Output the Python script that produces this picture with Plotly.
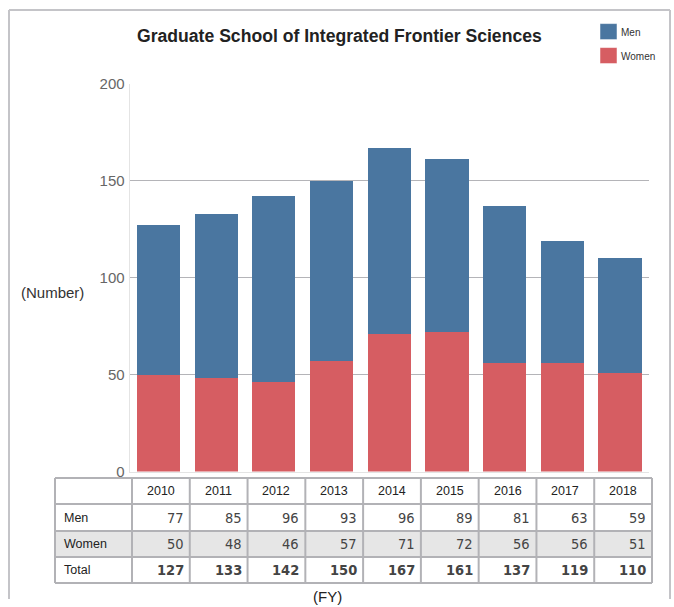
import plotly.graph_objects as go

years = ["2010", "2011", "2012", "2013", "2014", "2015", "2016", "2017", "2018"]
men = [77, 85, 96, 93, 96, 89, 81, 63, 59]
women = [50, 48, 46, 57, 71, 72, 56, 56, 51]
total = [127, 133, 142, 150, 167, 161, 137, 119, 110]
row_labels = ["Men", "Women", "Total"]
y_ticks = [0, 50, 100, 150, 200]

W, H = 674, 607
BLUE = "#4a76a0"
RED = "#d65d62"
SANS = "Liberation Sans, Arial, sans-serif"
NARROW = "DejaVu Sans Condensed, Liberation Sans Narrow, Arial Narrow, sans-serif"

# the photographed page appears vertically squeezed (y_img = 0.973*y_page + 8.4);
# positions below are given in reference-image pixels and mapped back to page pixels.
SY, OY = 0.973, 8.4

def px(x):
    return x / W

def py(y):
    yp = (y - OY) / SY
    yp = min(max(yp, 0.0), H)
    return 1 - yp / H

PL, PR, PT, PB = 129.6, 648.9, 83.0, 471.5

fig = go.Figure()
fig.add_trace(go.Bar(x=years, y=women, name="Women", marker=dict(color=RED, line=dict(width=0))))
fig.add_trace(go.Bar(x=years, y=men, name="Men", marker=dict(color=BLUE, line=dict(width=0))))

shapes = []
ann = []

# outer frame
for (x0, y0, x1, y1) in [(9, 9.4, 670, 9.4), (9, 9.4, 9, 607), (670, 9.4, 670, 607)]:
    shapes.append(dict(type="line", xref="paper", yref="paper", x0=px(x0), y0=py(y0), x1=px(x1), y1=py(y1),
                       line=dict(color="#c4c4c8", width=2)))

# title
ann.append(dict(text="<b>Graduate School of Integrated Frontier Sciences</b>", x=px(339), y=py(35),
                xref="paper", yref="paper", showarrow=False, xanchor="center", yanchor="middle",
                font=dict(family=SANS, size=17.6, color="#222222")))

# legend (drawn as keys)
for i, (name, col) in enumerate([("Men", BLUE), ("Women", RED)]):
    y0 = 23 + i * 24
    shapes.append(dict(type="rect", xref="paper", yref="paper", x0=px(600), x1=px(617), y0=py(y0), y1=py(y0 + 16),
                       fillcolor=col, line=dict(color="#ffffff", width=0.5)))
    ann.append(dict(text=name, x=px(619), y=py(y0 + 9), xref="paper", yref="paper", showarrow=False,
                    xanchor="left", yanchor="middle", font=dict(family=SANS, size=10, color="#333333")))

# y axis title
ann.append(dict(text="(Number)", x=px(52), y=py(292), xref="paper", yref="paper", showarrow=False,
                xanchor="center", yanchor="middle", font=dict(family=SANS, size=15, color="#333333")))

# data table
TL, TC0, TR = 55, 132, 652
cw = (TR - TC0) / len(years)
rows_y = [478, 504, 531, 557, 583]
shapes.append(dict(type="rect", xref="paper", yref="paper", x0=px(TL), x1=px(TR), y0=py(rows_y[2]), y1=py(rows_y[3]),
                   fillcolor="#e6e6e6", line=dict(width=0), layer="below"))
GRID = "#b2b2b6"
for yy in rows_y:
    shapes.append(dict(type="line", xref="paper", yref="paper", x0=px(TL), x1=px(TR), y0=py(yy), y1=py(yy),
                       line=dict(color=GRID, width=2)))
for k in range(len(years) + 1):
    xx = TC0 + k * cw
    shapes.append(dict(type="line", xref="paper", yref="paper", x0=px(xx), x1=px(xx), y0=py(rows_y[0]), y1=py(rows_y[-1]),
                       line=dict(color=GRID, width=2)))
shapes.append(dict(type="line", xref="paper", yref="paper", x0=px(TL), x1=px(TL), y0=py(rows_y[0]), y1=py(rows_y[-1]),
                   line=dict(color=GRID, width=2)))

for k, yr in enumerate(years):
    cx = TC0 + (k + 0.5) * cw
    ann.append(dict(text=yr, x=px(cx), y=py((rows_y[0] + rows_y[1]) / 2), xref="paper", yref="paper",
                    showarrow=False, xanchor="center", yanchor="middle",
                    font=dict(family=SANS, size=12.5, color="#222222")))
for r, (lab, vals) in enumerate(zip(row_labels, [men, women, total])):
    yc = (rows_y[r + 1] + rows_y[r + 2]) / 2
    ann.append(dict(text=lab, x=px(62), y=py(yc), xref="paper", yref="paper", showarrow=False,
                    xanchor="left", yanchor="middle", font=dict(family=SANS, size=12.5, color="#222222")))
    for k, v in enumerate(vals):
        xr = TC0 + (k + 1) * cw - 4
        txt = f"<b>{v}</b>" if lab == "Total" else str(v)
        ann.append(dict(text=txt, x=px(xr), y=py(yc), xref="paper", yref="paper", showarrow=False,
                        xanchor="right", yanchor="middle", font=dict(family=NARROW, size=14.5, color="#444444")))

ann.append(dict(text="(FY)", x=px(327), y=py(597), xref="paper", yref="paper", showarrow=False,
                xanchor="center", yanchor="middle", font=dict(family=SANS, size=15, color="#222222")))

fig.update_layout(
    width=W, height=H, autosize=False,
    margin=dict(l=0, r=0, t=0, b=0),
    paper_bgcolor="white", plot_bgcolor="white",
    barmode="stack", bargap=0.25,
    showlegend=False,
    shapes=shapes, annotations=ann,
    xaxis=dict(domain=[px(PL), px(PR)], showticklabels=False, ticks="", showgrid=False,
               showline=True, linecolor="#e4e4e4", linewidth=1, fixedrange=True),
    yaxis=dict(domain=[py(PB), py(PT)], range=[0, 200], tickvals=y_ticks, ticks="",
               showgrid=True, gridcolor="#b4b4b8", gridwidth=1,
               zeroline=False, showline=True, linecolor="#e4e4e4", linewidth=1,
               tickfont=dict(family=SANS, size=15, color="#666666"), ticklabelstandoff=1),
)

fig.write_html(
    "out.html",
    config={"displayModeBar": False},
    post_script="document.body.style.margin='0';document.body.style.overflow='hidden';",
)
